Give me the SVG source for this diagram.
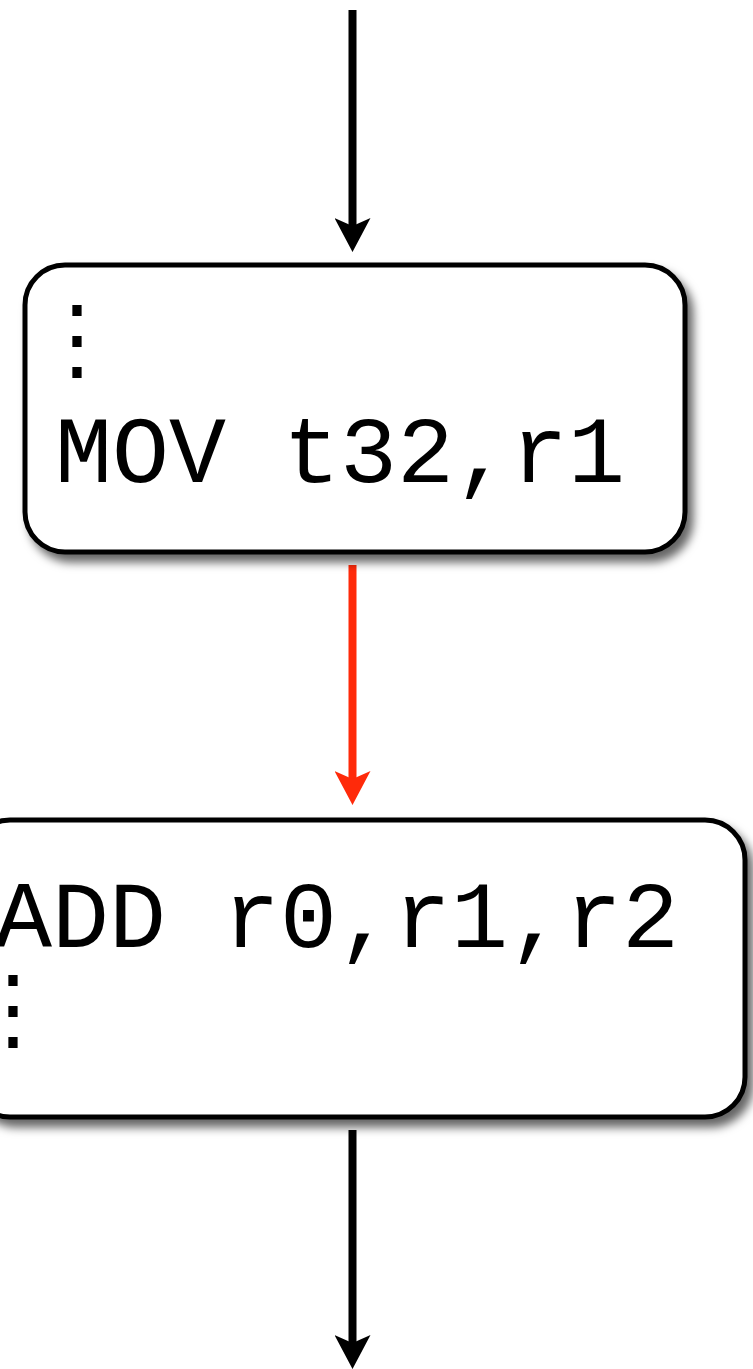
<svg xmlns="http://www.w3.org/2000/svg" width="753" height="1369" viewBox="0 0 753 1369">
<style>
.box{fill:#fff;stroke:#000;stroke-width:5;filter:url(#sh)}
.code{font-family:"Liberation Mono","Courier New",monospace;font-size:95px;fill:#000}
.dots{font-family:"Noto Sans CJK JP",sans-serif;font-size:90px;fill:#000}
.edge{stroke-width:8;fill:none}
</style>
<defs>
<filter id="sh" x="-10%" y="-10%" width="125%" height="130%">
<feDropShadow dx="6" dy="8" stdDeviation="5" flood-color="#000" flood-opacity="0.6"/>
</filter>
<marker id="ah" markerUnits="userSpaceOnUse" orient="auto" viewBox="0 0 34 36" refX="14" refY="18" markerWidth="34" markerHeight="36">
<path d="M0,0 L34,18 L0,36 L8,18 Z" fill="#000"/>
</marker>
<marker id="ahr" markerUnits="userSpaceOnUse" orient="auto" viewBox="0 0 34 36" refX="14" refY="18" markerWidth="34" markerHeight="36">
<path d="M0,0 L34,18 L0,36 L8,18 Z" fill="#ff2a0a"/>
</marker>
</defs>
<g id="connectors">
<line class="edge" x1="352.5" y1="10" x2="352.5" y2="232" stroke="#000" marker-end="url(#ah)"/>
<line class="edge" x1="352.5" y1="565" x2="352.5" y2="785" stroke="#ff2a0a" marker-end="url(#ahr)"/>
<line class="edge" x1="352.5" y1="1130" x2="352.5" y2="1349" stroke="#000" marker-end="url(#ah)"/>
</g>
<g id="node-mov">
<rect class="box" x="25" y="265" width="660" height="287" rx="40"/>
<text class="dots" x="77" y="370" text-anchor="middle">⋮</text>
<text class="code" x="55" y="482">MOV t32,r1</text>
</g>
<g id="node-add">
<rect class="box" x="-30" y="820" width="775" height="297" rx="40"/>
<text class="code" x="-5" y="947">ADD r0,r1,r2</text>
<text class="dots" x="13" y="1040" text-anchor="middle">⋮</text>
</g>
</svg>
